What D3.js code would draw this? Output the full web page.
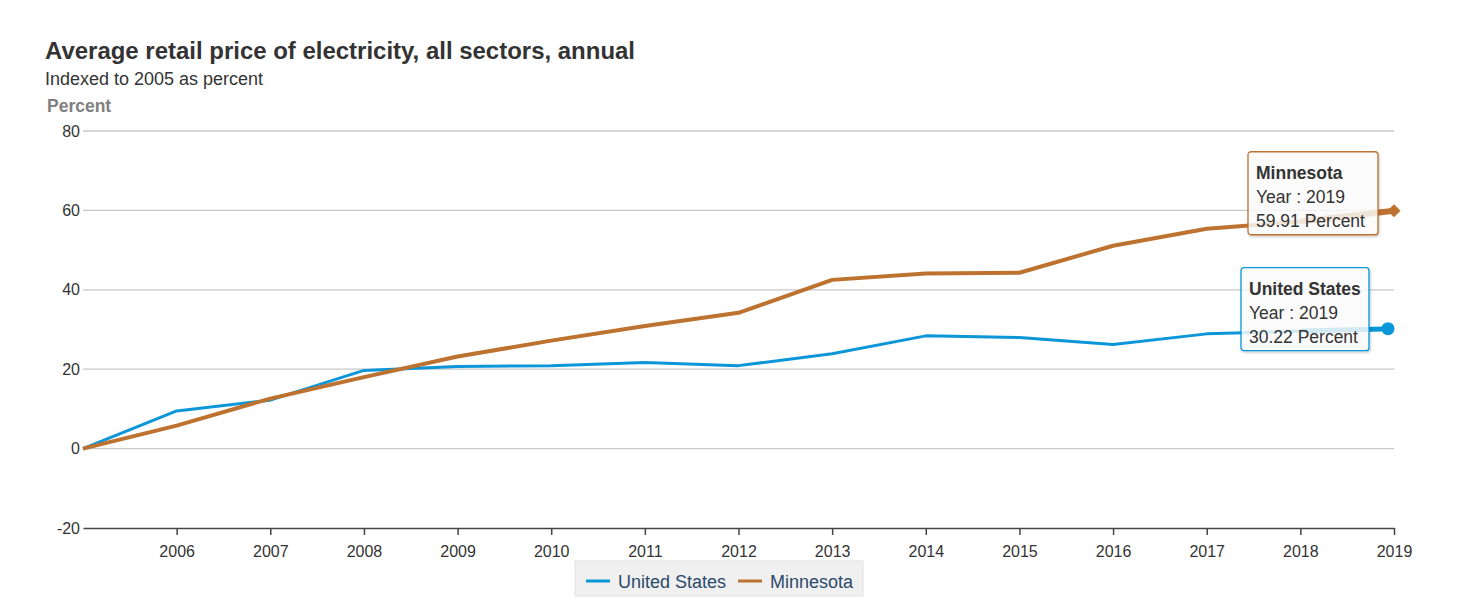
<!DOCTYPE html>
<html>
<head>
<meta charset="utf-8">
<script src="https://cdn.jsdelivr.net/npm/d3@7"></script>
<style>
  html, body { margin: 0; padding: 0; background: #fff; }
  svg { display: block; font-family: "Liberation Sans", Arial, sans-serif; }
</style>
</head>
<body>
<svg id="chart" width="1459" height="609"></svg>
<script>
const years = [2005, 2006, 2007, 2008, 2009, 2010, 2011, 2012, 2013, 2014, 2015, 2016, 2017, 2018, 2019];
const usValues = [0, 9.5, 12.2, 19.7, 20.7, 20.9, 21.7, 20.9, 23.9, 28.4, 28.0, 26.2, 28.9, 29.6, 30.22];
const mnValues = [0, 5.8, 12.6, 18.0, 23.2, 27.2, 30.9, 34.2, 42.5, 44.1, 44.3, 51.1, 55.4, 57.2, 59.91];
const yTicks = [-20, 0, 20, 40, 60, 80];
const xTickYears = [2006, 2007, 2008, 2009, 2010, 2011, 2012, 2013, 2014, 2015, 2016, 2017, 2018, 2019];
const seriesNames = ["United States", "Minnesota"];
const seriesColors = ["#0a96d8", "#bd7230"];

const svg = d3.select("#chart");
const margin = { left: 83, right: 65, top: 131, bottom: 81 };
const W = 1459, H = 609;
const x = d3.scaleLinear().domain([2005, 2019]).range([margin.left, W - margin.right]);
const y = d3.scaleLinear().domain([-20, 80]).range([H - margin.bottom, margin.top]);

// defs: shadow
const defs = svg.append("defs");
const f = defs.append("filter").attr("id", "shadow").attr("x", "-20%").attr("y", "-20%").attr("width", "140%").attr("height", "150%");
f.append("feDropShadow").attr("dx", 1).attr("dy", 1.5).attr("stdDeviation", 1.2).attr("flood-color", "#000").attr("flood-opacity", 0.22);

// Titles
svg.append("text").attr("x", 45).attr("y", 59).attr("font-size", 23).attr("font-weight", "bold").attr("fill", "#333")
  .attr("textLength", 590).attr("lengthAdjust", "spacingAndGlyphs")
  .text("Average retail price of electricity, all sectors, annual");
svg.append("text").attr("x", 45).attr("y", 85).attr("font-size", 17.5).attr("fill", "#333")
  .attr("textLength", 218).attr("lengthAdjust", "spacingAndGlyphs")
  .text("Indexed to 2005 as percent");
svg.append("text").attr("x", 47).attr("y", 112).attr("font-size", 17.5).attr("font-weight", "bold").attr("fill", "#808080")
  .text("Percent");

// Grid
const grid = svg.append("g");
grid.selectAll("line").data(yTicks.filter(d => d > -20)).join("line")
  .attr("x1", x(2005)).attr("x2", x(2019))
  .attr("y1", d => y(d)).attr("y2", d => y(d))
  .attr("stroke", "#c8c8c8").attr("stroke-width", 1.3);

// Y axis labels
const yAxis = d3.axisLeft(y).tickValues(yTicks).tickSize(0).tickPadding(3).tickFormat(d => String(d));
const gy = svg.append("g").attr("transform", `translate(${margin.left},0)`).call(yAxis);
gy.select(".domain").remove();
gy.selectAll("text").attr("font-size", 16).attr("fill", "#333").attr("font-family", "Liberation Sans, Arial, sans-serif");

// X axis
const xAxis = d3.axisBottom(x).tickValues(xTickYears).tickSize(7).tickPadding(11).tickFormat(d => String(d)).tickSizeOuter(0);
const gx = svg.append("g").attr("transform", `translate(0,${y(-20)})`).call(xAxis);
gx.select(".domain").attr("stroke", "#444").attr("stroke-width", 1.5);
gx.selectAll(".tick line").attr("stroke", "#444").attr("stroke-width", 1.5);
gx.selectAll("text").attr("font-size", 16).attr("fill", "#333").attr("font-family", "Liberation Sans, Arial, sans-serif");

// Lines
const line = d3.line().x((d, i) => x(years[i])).y(d => y(d));
const allSeries = [usValues, mnValues];
const widths = [3, 4];
allSeries.forEach((vals, s) => {
  svg.append("path").datum(vals).attr("d", line).attr("fill", "none")
    .attr("stroke", seriesColors[s]).attr("stroke-width", widths[s]).attr("stroke-linejoin", "round");
  // highlighted last segment (hover)
  const n = vals.length;
  svg.append("path").datum(vals.slice(n - 2)).attr("d", d3.line().x((d, i) => x(years[n - 2 + i])).y(d => y(d)))
    .attr("fill", "none").attr("stroke", seriesColors[s]).attr("stroke-width", widths[s] + 2);
});

// Markers
const last = years.length - 1;
svg.append("circle").attr("cx", x(years[last]) - 6).attr("cy", y(usValues[last])).attr("r", 6.5).attr("fill", seriesColors[0]);
svg.append("path").attr("d", d3.symbol(d3.symbolDiamond2, 110)()).attr("transform", `translate(${x(years[last])},${y(mnValues[last])})`)
  .attr("fill", seriesColors[1]);

// Tooltips
function tooltip(name, year, val, color, right, topOff, w) {
  const px = x(year), py = y(val);
  const g = svg.append("g").attr("transform", `translate(${px - right - w},${py + topOff})`);
  g.append("rect").attr("width", w).attr("height", 83).attr("rx", 3)
    .attr("fill", "rgba(255,255,255,0.8)").attr("stroke", color).attr("stroke-width", 1.3).attr("filter", "url(#shadow)");
  const t = g.append("text").attr("font-size", 17.5).attr("fill", "#333");
  t.append("tspan").attr("x", 8).attr("y", 27).attr("font-weight", "bold").text(name);
  t.append("tspan").attr("x", 8).attr("y", 51).text(`Year : ${year}`);
  t.append("tspan").attr("x", 8).attr("y", 75).text(`${d3.format(".2f")(val)} Percent`);
}
tooltip(seriesNames[1], years[last], mnValues[last], seriesColors[1], 16, -59, 130);
tooltip(seriesNames[0], years[last], usValues[last], seriesColors[0], 25, -61, 128);

// Legend
const lg = svg.append("g").attr("transform", "translate(575,561)");
lg.append("rect").attr("width", 288).attr("height", 35).attr("fill", "#f0f0f0").attr("stroke", "#e2e2e2");
const items = [{ n: seriesNames[0], c: seriesColors[0], lx: 11 }, { n: seriesNames[1], c: seriesColors[1], lx: 163 }];
items.forEach(it => {
  lg.append("line").attr("x1", it.lx).attr("x2", it.lx + 24).attr("y1", 20).attr("y2", 20).attr("stroke", it.c).attr("stroke-width", 3);
  lg.append("text").attr("x", it.lx + 32).attr("y", 26.5).attr("font-size", 18).attr("fill", "#2b4a6b").text(it.n);
});
</script>
</body>
</html>
